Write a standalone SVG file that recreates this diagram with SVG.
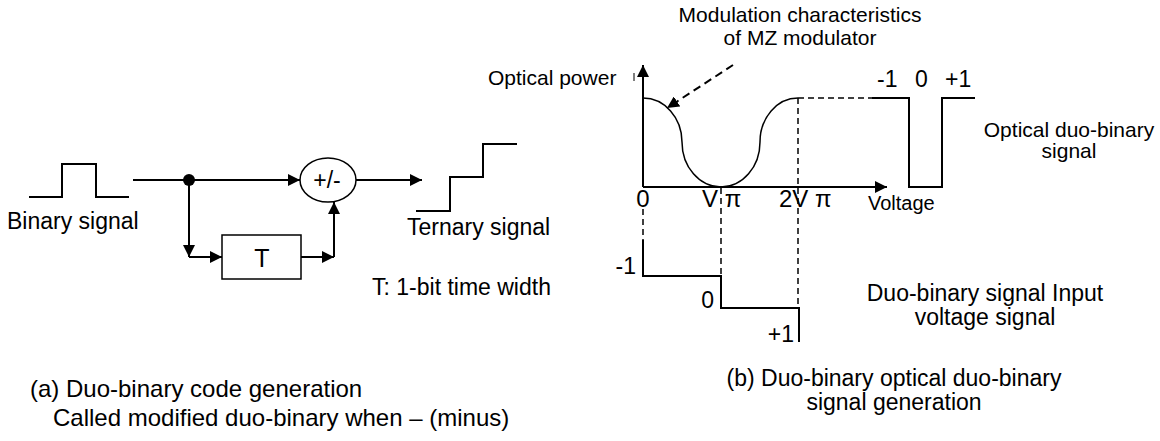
<svg xmlns="http://www.w3.org/2000/svg" width="1160" height="441" viewBox="0 0 1160 441">
<defs>
<marker id="ah" viewBox="0 0 12 12" refX="12" refY="6" markerWidth="12" markerHeight="12" markerUnits="userSpaceOnUse" orient="auto"><path d="M0,0 L12,6 L0,12 z" fill="#000"/></marker>
<style>
text{font-family:"Liberation Sans",Arial,sans-serif;fill:#000}
.l{font-size:23px}
.m{font-size:24px}
.s{font-size:21px}
.c{text-anchor:middle}
.e{text-anchor:end}
.w{fill:none;stroke:#000;stroke-width:2}
.t{fill:none;stroke:#000;stroke-width:1.5}
.d{fill:none;stroke:#000;stroke-width:1.5;stroke-dasharray:6 4}
.a{marker-end:url(#ah)}
</style>
</defs>
<rect width="1160" height="441" fill="#fff"/>

<!-- (a) Duo-binary code generation -->
<g id="binary-signal">
<path class="w" d="M29,197 H62 V164 H96 V197 H129"/>
<text class="l" x="7" y="229">Binary signal</text>
</g>
<g id="sum-node">
<ellipse cx="328" cy="180" rx="28" ry="22" fill="#fff" stroke="#000" stroke-width="1.5"/>
<text class="c" x="327" y="188" font-size="23">+/-</text>
</g>
<g id="delay-T">
<rect x="222" y="235" width="79" height="44" fill="#fff" stroke="#000" stroke-width="1.5"/>
<text class="c" x="262" y="267" font-size="25">T</text>
</g>
<g id="ternary-signal">
<path class="w" d="M416,211 H450 V177 H483 V144 H517"/>
<text class="l" x="407" y="235">Ternary signal</text>
</g>
<g id="note-T">
<text class="l" x="372" y="295">T: 1-bit time width</text>
</g>
<g id="connectors">
<path class="w a" d="M133,180 H300"/>
<circle cx="189" cy="180" r="6" fill="#000"/>
<path class="w a" d="M189,180 V257"/>
<path class="w a" d="M189,257 H222"/>
<path class="w a" d="M301,257 H334"/>
<path class="w a" d="M334,257 V202"/>
<path class="w a" d="M356,180 H422"/>
</g>
<g id="caption-a">
<text class="m" x="30" y="397">(a) Duo-binary code generation</text>
<text class="m" x="53" y="426">Called modified duo-binary when – (minus)</text>
</g>

<!-- (b) Optical duo-binary -->
<g id="mz-characteristic">
<text class="s c" x="800" y="22">Modulation characteristics</text>
<text class="s c" x="800" y="45">of MZ modulator</text>
<path fill="none" stroke="#000" stroke-width="2" stroke-dasharray="8 5" d="M733,65 L667,108" marker-end="url(#ah)"/>
<path class="w a" d="M643,187 V65"/>
<path class="w a" d="M643,187 H887"/>
<line x1="634" y1="73" x2="634" y2="81" stroke="#000" stroke-width="1"/>
<text class="s" x="488" y="85">Optical power</text>
<path class="t" d="M643,98 C664.5,98 682,117.7 682,142 C682,166.9 699.5,187 721,187 C742.5,187 760,166.9 760,142 C760,117.7 777,98 798,98"/>
<path class="d" d="M721,188 V276 M798,98 V308 M643,209 V240 M798,98 H872"/>
<text class="m c" x="643" y="207">0</text>
<text class="m" x="702" y="207">V π</text>
<text class="m" x="779" y="207">2V π</text>
<text x="868" y="210" font-size="20">Voltage</text>
</g>
<g id="optical-output">
<path class="w" d="M872,98 H909 V187 H942 V98 H975"/>
<text class="l" x="877" y="87">-1</text>
<text class="l" x="915" y="87">0</text>
<text class="l" x="945" y="87">+1</text>
<text class="s c" x="1069" y="137">Optical duo-binary</text>
<text class="s c" x="1069" y="158">signal</text>
</g>
<g id="voltage-input">
<path class="w" d="M643,240 V276 H721 V308 H799 V342"/>
<text class="l e" x="636" y="274">-1</text>
<text class="l e" x="714" y="308">0</text>
<text class="l e" x="794" y="342">+1</text>
<text class="l c" x="985" y="301">Duo-binary signal Input</text>
<text class="l c" x="985" y="325">voltage signal</text>
</g>
<g id="caption-b">
<text class="l c" x="894" y="386">(b) Duo-binary optical duo-binary</text>
<text class="l c" x="894" y="410">signal generation</text>
</g>
</svg>
